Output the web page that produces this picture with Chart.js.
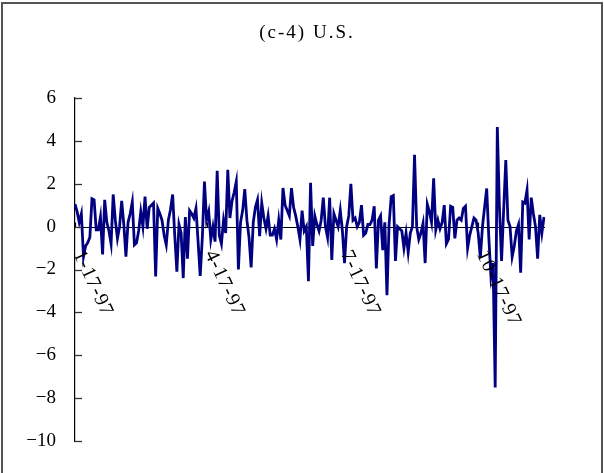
<!DOCTYPE html>
<html>
<head>
<meta charset="utf-8">
<script src="https://cdn.jsdelivr.net/npm/chart.js@4.4.1/dist/chart.umd.min.js"></script>
<style>
  html, body { margin: 0; padding: 0; background: #ffffff; }
  #wrap { width: 604px; height: 473px; position: relative; }
</style>
</head>
<body>
<div id="wrap"><canvas id="chart" width="604" height="473"></canvas></div>
<script>
// Daily returns (%) of the U.S. market, one value per trading day
const chartTitle = '(c-4) U.S.';
const returns = [
  1.05, 0.7, 0.2, 0.6, -1.4, -0.9, -0.75, -0.5, 1.3, 1.25,
  -0.15, -0.15, 0.45, -1.3, 1.25, 0.2, -0.2, -0.8, 1.5, 0.3,
  -0.55, 0.0, 1.2, 0.1, -1.4, 0.2, 0.6, 1.15, -0.85, -0.75,
  -0.2, 0.7, 0.0, 1.4, -0.1, 0.9, 1.0, 1.1, -2.33, 0.85,
  0.6, 0.3, -0.4, -0.85, 0.3, 0.8, 1.5, -0.4, -2.1, 0.1,
  -0.3, -2.4, 0.45, -1.5, 0.75, 0.6, 0.4, 0.85, -0.7, -2.3,
  -0.5, 2.1, 0.3, 0.7, -0.6, 0.0, -0.7, 2.6, -0.4, -0.8,
  0.3, -0.3, 2.65, 0.4, 1.2, 1.6, 2.1, -2.0, 0.2, 0.75,
  1.75, 0.3, -0.5, -1.9, 0.2, 0.9, 1.25, -0.45, 1.1, 0.4,
  -0.1, 0.5, -0.4, -0.4, -0.1, -0.6, 0.3, -0.6, 1.8, 1.0,
  0.75, 0.5, 1.8, 0.9, 0.5, 0.0, -0.6, 0.75, -0.2, 0.0,
  -2.55, 2.05, -0.9, 0.5, 0.1, -0.2, 0.3, 1.35, 0.0, -0.5,
  1.35, -1.55, 0.6, 0.3, 0.0, 0.75, -0.2, -1.7, 0.0, 0.5,
  2.0, 0.3, 0.4, 0.0, 0.2, 1.0, -0.4, -0.3, 0.1, 0.1,
  0.3, 0.95, -1.95, 0.3, 0.5, -1.1, 0.2, -3.2, 0.1, 1.4,
  1.45, -1.6, 0.0, -0.1, -0.2, -1.0, -0.3, -1.2, -0.3, 0.0,
  3.35, 0.0, -0.6, -0.3, 0.15, -1.7, 1.05, 0.7, 0.2, 2.25,
  -0.15, 0.3, -0.1, 0.2, 1.0, -0.8, -0.6, 0.95, 0.9, -0.55,
  0.3, 0.4, 0.3, 0.85, 0.95, -1.0, -0.4, 0.0, 0.4, 0.3,
  -0.3, -1.45, 0.0, 0.9, 1.78, -0.5, -2.33, -1.7, -7.5, 4.65,
  0.9, -1.6, 0.8, 3.1, 0.3, 0.0, -1.4, -0.9, -0.2, 0.1,
  -2.15, 1.15, 1.1, 1.7, -0.6, 1.35, 0.6, 0.0, -1.5, 0.55,
  -0.3, 0.45
];
// Dated category labels and the day index each one sits on
const tickLabels = ['1-17-97', '4-17-97', '7-17-97', '10-17-97'];
const tickIndex = [0, 62, 126, 190];
const yMin = -10, yMax = 6, yStep = 2;

const categories = returns.map((_, i) => {
  const k = tickIndex.indexOf(i);
  return k >= 0 ? tickLabels[k] : '';
});

const SERIF = '"Liberation Serif", "Times New Roman", serif';
const fmt = v => (v < 0 ? '\u2212' + Math.abs(v) : String(v));

const decor = {
  id: 'decor',
  beforeDatasetsDraw(chart) {
    const { ctx, chartArea: a, scales: { x, y } } = chart;
    const y0 = Math.round(y.getPixelForValue(0)) + 0.5;
    ctx.save();
    // horizontal axis through zero
    ctx.strokeStyle = '#000';
    ctx.lineWidth = 1.2;
    ctx.beginPath();
    ctx.moveTo(a.left, y0);
    ctx.lineTo(a.right + 1, y0);
    ctx.stroke();
    // small marks on the zero axis at the dated categories
    tickIndex.forEach(i => {
      const px = Math.round(x.getPixelForValue(i)) + 0.5;
      ctx.beginPath();
      ctx.moveTo(px, y0);
      ctx.lineTo(px, y0 - 5);
      ctx.stroke();
    });
    ctx.restore();
  },
  afterDraw(chart) {
    const { ctx, chartArea: a, scales: { x, y } } = chart;
    ctx.save();
    // outer frame
    ctx.strokeStyle = '#555';
    ctx.lineWidth = 2;
    ctx.strokeRect(2, 3, 600, 490);
    // title
    ctx.fillStyle = '#000';
    ctx.font = '19px ' + SERIF;
    ctx.letterSpacing = '2px';
    ctx.textAlign = 'center';
    ctx.textBaseline = 'middle';
    ctx.fillText(chartTitle, 307, 33);
    ctx.letterSpacing = '0px';
    // tick marks on the inside of the value axis
    ctx.strokeStyle = '#333';
    ctx.lineWidth = 1.3;
    for (let v = yMin; v <= yMax; v += yStep) {
      const py = Math.round(y.getPixelForValue(v)) + 0.5;
      ctx.beginPath();
      ctx.moveTo(a.left, py);
      ctx.lineTo(a.left + 7, py);
      ctx.stroke();
    }
    // slanted date labels below the zero axis
    const y0 = y.getPixelForValue(0);
    ctx.font = '20px ' + SERIF;
    ctx.letterSpacing = '1px';
    ctx.textAlign = 'left';
    ctx.textBaseline = 'middle';
    tickIndex.forEach((i, k) => {
      const px = x.getPixelForValue(i);
      ctx.save();
      ctx.translate(px + 3, y0 + 25);
      ctx.rotate(65 * Math.PI / 180);
      ctx.fillText(tickLabels[k], 0, 0);
      ctx.restore();
    });
    ctx.restore();
  }
};

new Chart(document.getElementById('chart'), {
  type: 'line',
  data: {
    labels: categories,
    datasets: [{
      data: returns,
      borderColor: '#000080',
      borderWidth: 2.8,
      pointRadius: 0,
      tension: 0,
      fill: false
    }]
  },
  options: {
    responsive: false,
    animation: false,
    devicePixelRatio: 1,
    layout: { padding: { left: 0, right: 60, top: 98, bottom: 32 } },
    plugins: { legend: { display: false }, tooltip: { enabled: false }, title: { display: false } },
    scales: {
      x: { type: 'category', display: false, offset: false },
      y: {
        min: yMin, max: yMax,
        afterFit(s) { s.width = 75; },
        grid: { display: false, drawTicks: false },
        border: { display: true, color: '#000', width: 1.2 },
        ticks: {
          stepSize: yStep,
          padding: 19,
          color: '#000',
          font: { family: SERIF, size: 19 },
          callback: v => fmt(v)
        }
      }
    }
  },
  plugins: [decor]
});
</script>
</body>
</html>
